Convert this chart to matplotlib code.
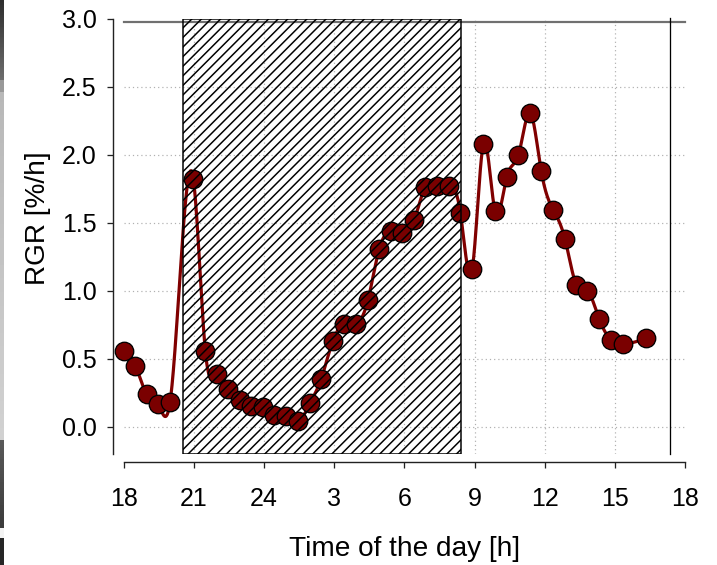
import numpy as np
import matplotlib
matplotlib.use("Agg")
import matplotlib.pyplot as plt
from matplotlib.patches import Rectangle

# ---------------- data ----------------
time_h = [18.00, 18.50, 18.99, 19.47, 19.98,
          20.98, 21.49, 21.98, 22.47, 22.97, 23.43, 23.97, 24.44, 24.94,
          25.47, 25.97, 26.44, 26.94, 27.43, 27.93, 28.44, 28.93, 29.43,
          29.92, 30.42, 30.89, 31.39, 31.91, 32.40, 32.90, 33.38, 33.88,
          34.38, 34.88, 35.38, 35.85, 36.37, 36.87, 37.36, 37.83, 38.34,
          38.84, 39.34, 40.33]
rgr = [0.56, 0.45, 0.24, 0.17, 0.18,
       1.82, 0.56, 0.39, 0.28, 0.20, 0.15, 0.145, 0.09, 0.08,
       0.04, 0.175, 0.35, 0.63, 0.755, 0.755, 0.93, 1.31, 1.44,
       1.425, 1.52, 1.765, 1.77, 1.77, 1.57, 1.16, 2.08, 1.585,
       1.84, 2.00, 2.31, 1.885, 1.595, 1.38, 1.04, 1.00, 0.79,
       0.64, 0.61, 0.65]
x_ticks = [18, 21, 24, 27, 30, 33, 36, 39, 42]
x_tick_labels = ["18", "21", "24", "3", "6", "9", "12", "15", "18"]
y_ticks = [0.0, 0.5, 1.0, 1.5, 2.0, 2.5, 3.0]
y_tick_labels = ["0.0", "0.5", "1.0", "1.5", "2.0", "2.5", "3.0"]
night_start, night_end = 20.55, 32.43
ref_x = 41.35
x_range = (18, 42)
y_range = (-0.2, 3.0)

# ---------------- helpers ----------------
DPI = 115
W, H = 717, 565


def P(px):
    return px * 72.0 / DPI


def natural_spline(x, y, num=2000):
    x = np.asarray(x, float)
    y = np.asarray(y, float)
    n = len(x)
    h = np.diff(x)
    A = np.zeros((n, n))
    b = np.zeros(n)
    A[0, 0] = 1
    A[-1, -1] = 1
    for i in range(1, n - 1):
        A[i, i - 1] = h[i - 1]
        A[i, i] = 2 * (h[i - 1] + h[i])
        A[i, i + 1] = h[i]
        b[i] = 6 * ((y[i + 1] - y[i]) / h[i] - (y[i] - y[i - 1]) / h[i - 1])
    M = np.linalg.solve(A, b)
    xs = np.linspace(x[0], x[-1], num)
    idx = np.clip(np.searchsorted(x, xs) - 1, 0, n - 2)
    x0, x1 = x[idx], x[idx + 1]
    hh = x1 - x0
    t0 = x1 - xs
    t1 = xs - x0
    ys = (M[idx] * t0 ** 3 / (6 * hh) + M[idx + 1] * t1 ** 3 / (6 * hh)
          + (y[idx] / hh - M[idx] * hh / 6) * t0
          + (y[idx + 1] / hh - M[idx + 1] * hh / 6) * t1)
    return xs, ys


plt.rcParams["font.family"] = ["Liberation Sans", "DejaVu Sans"]
plt.rcParams["hatch.linewidth"] = P(1.5)

fig = plt.figure(figsize=(W / DPI, H / DPI), dpi=DPI)
fig.patch.set_facecolor("white")

# axes in pixel placement
x_left, x_right = 123.7, 685.0
y_top, y_bot = 19.0, 454.0
ax = fig.add_axes([x_left / W, (H - y_bot) / H,
                   (x_right - x_left) / W, (y_bot - y_top) / H])
ax.set_xlim(*x_range)
ax.set_ylim(*y_range)

# grid
for yv in y_ticks[:-1]:
    ax.axhline(yv, color="#b0b0b0", lw=P(1.2), ls=(0, (1, 2.5)), zorder=0)
for xv in x_ticks[1:-1]:
    ax.axvline(xv, color="#b0b0b0", lw=P(1.2), ls=(0, (1, 2.5)), zorder=0)

# spline line + markers
xs, ys = natural_spline(time_h, rgr)
ax.plot(xs, ys, color="#800000", lw=P(3.2), zorder=2,
        solid_capstyle="round", clip_on=False)
ax.plot(time_h, rgr, ls="none", marker="o", ms=P(18.5),
        mfc="#7a0000", mec="black", mew=P(1.3), zorder=3, clip_on=False)

# hatched night box (drawn above data)
ax.add_patch(Rectangle((night_start, y_range[0]), night_end - night_start,
                       y_range[1] - y_range[0], fill=False, hatch="////",
                       edgecolor="black", lw=P(1.5), zorder=5))

# top grey line and right vertical line
ax.plot(list(x_range), [2.975, 2.975], color="#707070", lw=P(2.2),
        zorder=1, clip_on=False)
ax.axvline(ref_x, ymin=0, ymax=1.003, color="black", lw=P(1.3), zorder=1,
           clip_on=False)

# spines
for s in ("top", "right"):
    ax.spines[s].set_visible(False)
ax.spines["left"].set_position(("outward", P(11)))
ax.spines["bottom"].set_position(("outward", P(8)))
for s in ("left", "bottom"):
    ax.spines[s].set_linewidth(P(1.4))
    ax.spines[s].set_color("#222222")

ax.set_xticks(x_ticks)
ax.set_xticklabels(x_tick_labels)
ax.set_yticks(y_ticks)
ax.set_yticklabels(y_tick_labels)
ax.tick_params(axis="both", direction="out", length=P(6), width=P(1.3),
               color="#222222", labelsize=P(25), labelcolor="black")
ax.tick_params(axis="y", pad=P(10))
ax.tick_params(axis="x", pad=P(19))

ax.set_ylabel("RGR [%/h]", fontsize=P(28), color="black")
ax.yaxis.set_label_coords(38 / W, (H - 218) / H, transform=fig.transFigure)
ax.yaxis.label.set_verticalalignment("center")
ax.set_xlabel("Time of the day [h]", fontsize=P(28), color="black")
ax.xaxis.set_label_coords(405 / W, (H - 549) / H, transform=fig.transFigure)
ax.xaxis.label.set_verticalalignment("center")

# screenshot edge strip on the far left
strip = np.full(H, 0.80)
yy = np.arange(H)
strip[yy < 80] = 0.18 + 0.25 * yy[yy < 80] / 80
strip[(yy >= 80) & (yy < 92)] = 0.6
m = (yy >= 92) & (yy < 440)
strip[m] = 0.72 + 0.1 * (yy[m] - 92) / 348
m = (yy >= 440) & (yy < 528)
strip[m] = 0.35 - 0.12 * (yy[m] - 440) / 88
strip[(yy >= 528) & (yy < 538)] = 0.95
strip[yy >= 538] = 0.15
sax = fig.add_axes([0, 0, 4 / W, 1])
sax.imshow(strip[:, None], cmap="gray", vmin=0, vmax=1, aspect="auto",
           interpolation="nearest")
sax.axis("off")

fig.savefig("out.png", dpi=DPI)
